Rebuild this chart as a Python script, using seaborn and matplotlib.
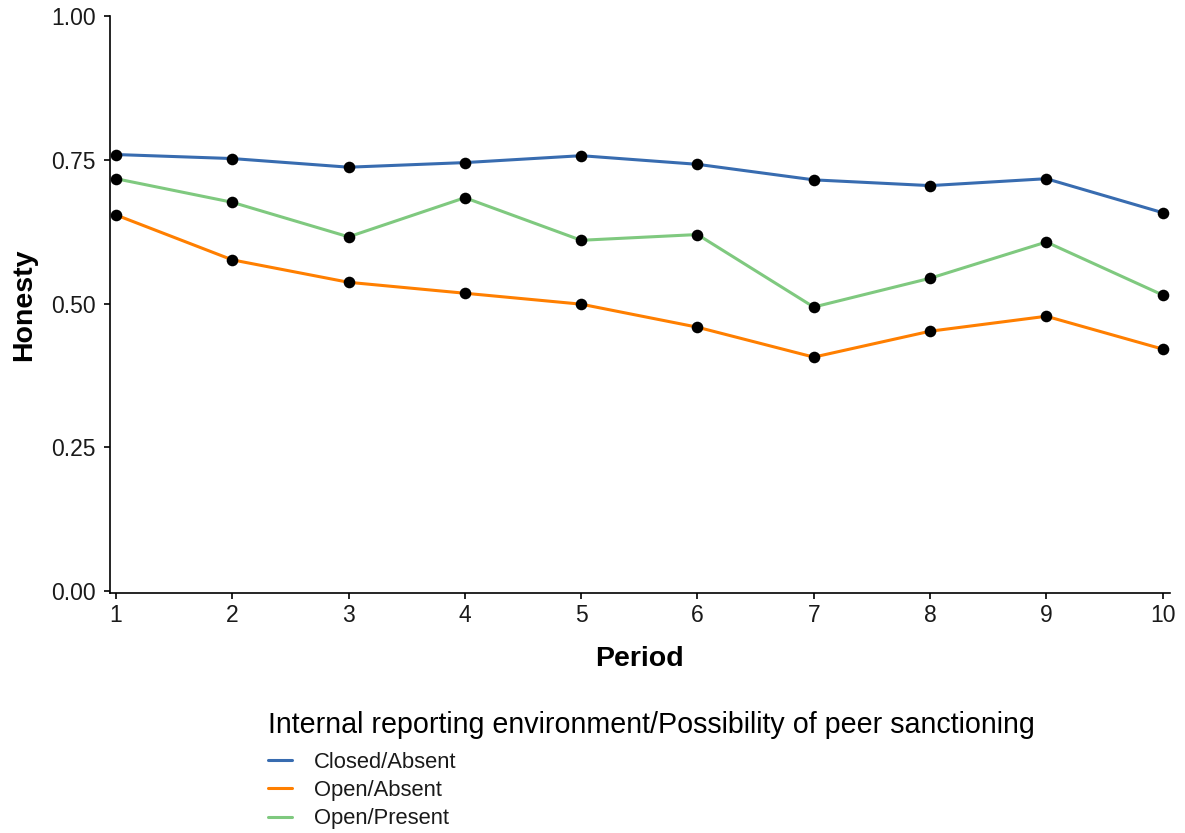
import matplotlib
matplotlib.use("Agg")
import matplotlib.pyplot as plt
import seaborn as sns
import pandas as pd

# Mean honesty per period for each treatment
periods = [1, 2, 3, 4, 5, 6, 7, 8, 9, 10]
closed_absent = [0.759, 0.752, 0.737, 0.745, 0.757, 0.742, 0.715, 0.705, 0.717, 0.658]
open_absent = [0.654, 0.576, 0.537, 0.518, 0.499, 0.459, 0.407, 0.452, 0.478, 0.421]
open_present = [0.717, 0.676, 0.616, 0.684, 0.610, 0.620, 0.494, 0.544, 0.607, 0.515]

treatments = ["Closed/Absent", "Open/Absent", "Open/Present"]
y_ticks = [0.00, 0.25, 0.50, 0.75, 1.00]
y_tick_labels = ["0.00", "0.25", "0.50", "0.75", "1.00"]

df = pd.DataFrame({
    "Period": periods * 3,
    "Honesty": closed_absent + open_absent + open_present,
    "Treatment": [treatments[0]] * 10 + [treatments[1]] * 10 + [treatments[2]] * 10,
})

sns.set_theme(style="white")
plt.rcParams["font.family"] = ["Liberation Sans", "DejaVu Sans"]

palette = {"Closed/Absent": "#386CB0", "Open/Absent": "#FF7F00", "Open/Present": "#7FC97F"}

fig = plt.figure(figsize=(11.85, 8.33), dpi=100)
ax = fig.add_axes([0.093, 0.288, 0.894, 0.693])

sns.lineplot(data=df, x="Period", y="Honesty", hue="Treatment", hue_order=treatments,
             palette=palette, linewidth=2.2, ax=ax, legend=True)
sns.scatterplot(data=df, x="Period", y="Honesty", color="black", s=70,
                edgecolor="black", linewidth=0, ax=ax, legend=False, zorder=5)

ax.set_xlim(0.95, 10.06)
ax.set_ylim(-0.003, 1.0)
ax.set_xticks(periods)
ax.set_xticklabels([str(p) for p in periods])
ax.set_yticks(y_ticks)
ax.set_yticklabels(y_tick_labels)

for side in ["top", "right"]:
    ax.spines[side].set_visible(False)
for side in ["left", "bottom"]:
    ax.spines[side].set_color("black")
    ax.spines[side].set_linewidth(1.2)

ax.tick_params(axis="both", which="major", direction="out", length=4.5, width=1.2,
               color="black", labelsize=16.5, labelcolor="#1a1a1a",
               bottom=True, left=True)
ax.tick_params(axis="y", pad=6)
ax.tick_params(axis="x", pad=3)

ax.set_xlabel("Period", fontsize=20.5, fontweight="bold", labelpad=14, color="black")
ax.set_ylabel("Honesty", fontsize=20.5, fontweight="bold", labelpad=10, color="black")

handles, labels = ax.get_legend_handles_labels()
ax.get_legend().remove()
leg = fig.legend(handles, labels, loc="upper left", bbox_to_anchor=(0.226, 0.146),
                 title="Internal reporting environment/Possibility of peer sanctioning",
                 title_fontsize=20.6, fontsize=15.8, frameon=False,
                 handlelength=1.1, handletextpad=1.0, labelspacing=0.33,
                 borderaxespad=0, borderpad=0)
leg._legend_box.align = "left"
leg._legend_box.sep = 9
leg.get_title().set_color("black")
for txt in leg.get_texts():
    txt.set_color("#1a1a1a")
for line in leg.get_lines():
    line.set_linewidth(2.2)

fig.savefig("out.png", dpi=100)
